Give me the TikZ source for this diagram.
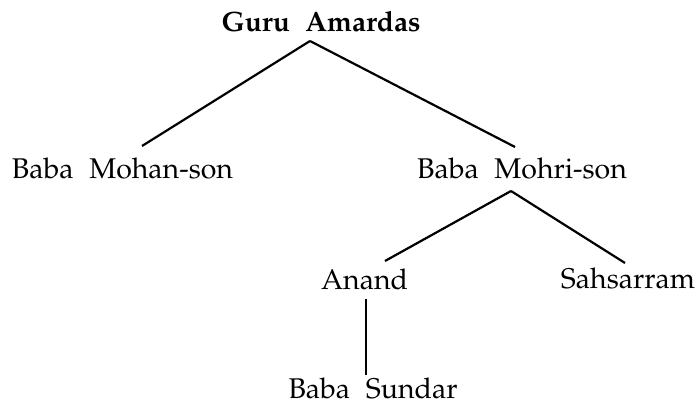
\documentclass[tikz,border=0pt]{standalone}
\usepackage[T1]{fontenc}
\usepackage{mathpazo}
\usetikzlibrary{calc}
\newcommand\wgap{\hspace{0.55em}}
\tikzset{
  lbl/.style={anchor=base, inner sep=0pt, font=\fontsize{28.5}{32}\selectfont},
  edge/.style={line width=2.2pt}
}
\begin{document}
\begin{tikzpicture}[x=1pt,y=-1pt]
\useasboundingbox (0,0) rectangle (700,403);
\node[lbl, font=\fontsize{28}{32}\selectfont\bfseries] (g) at (321,32) {Guru\wgap Amardas};
\node[lbl] (m) at (122.5,179) {Baba\wgap Mohan-son};
\node[lbl] (r) at (522,179) {Baba\wgap Mohri-son};
\node[lbl] (a) at (364.5,289) {Anand};
\node[lbl] (s) at (628,288) {Sahsarram};
\node[lbl] (u) at (373,398) {Baba\wgap Sundar};
\draw[edge] ($(g.base)+(-11,9)$) -- ($(m.base)+(19.5,-33)$);
\draw[edge] ($(g.base)+(-11,9)$) -- ($(r.base)+(-7,-32)$);
\draw[edge] ($(r.base)+(-11,12)$) -- ($(a.base)+(20.5,-28)$);
\draw[edge] ($(r.base)+(-11,12)$) -- ($(s.base)+(-3,-25)$);
\draw[edge] ($(a.base)+(1.5,10)$) -- ($(u.base)+(-7,-23)$);
\end{tikzpicture}
\end{document}
